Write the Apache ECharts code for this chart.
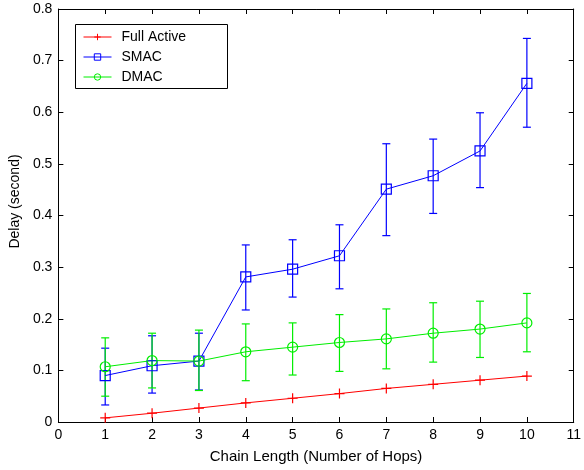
<!DOCTYPE html>
<html>
<head>
<meta charset="utf-8">
<script src="https://cdn.jsdelivr.net/npm/echarts@6/dist/echarts.min.js"></script>
<style>
html,body{margin:0;padding:0;background:#fff;}
#chart{width:584px;height:470px;}
</style>
</head>
<body>
<div id="chart"></div>
<script>
var hops = [1, 2, 3, 4, 5, 6, 7, 8, 9, 10];
var fullActive = [0.008, 0.017, 0.027, 0.037, 0.046, 0.055, 0.065, 0.073, 0.081, 0.089];
var smac = [0.090, 0.109, 0.118, 0.281, 0.296, 0.322, 0.451, 0.477, 0.525, 0.656];
var smacLow = [0.033, 0.056, 0.062, 0.217, 0.242, 0.258, 0.361, 0.404, 0.454, 0.571];
var smacHigh = [0.143, 0.167, 0.172, 0.343, 0.353, 0.382, 0.539, 0.548, 0.599, 0.743];
var dmac = [0.107, 0.119, 0.118, 0.136, 0.145, 0.154, 0.161, 0.172, 0.180, 0.192];
var dmacLow = [0.050, 0.066, 0.061, 0.080, 0.091, 0.098, 0.103, 0.116, 0.125, 0.136];
var dmacHigh = [0.163, 0.172, 0.178, 0.190, 0.192, 0.208, 0.219, 0.231, 0.234, 0.249];
var seriesNames = ['Full Active', 'SMAC', 'DMAC'];
var xTitle = 'Chain Length (Number of Hops)';
var yTitle = 'Delay (second)';

var RED = '#ff0000', BLUE = '#0000ff', GREEN = '#00ee00';

function pairs(xs, ys) { return xs.map(function (x, i) { return [x, ys[i]]; }); }
function errData(xs, lo, hi) { return xs.map(function (x, i) { return [x, lo[i], hi[i]]; }); }

function errorBar(color) {
  return function (params, api) {
    var x = api.value(0);
    var lo = api.coord([x, api.value(1)]);
    var hi = api.coord([x, api.value(2)]);
    var hw = 4;
    var style = { stroke: color, lineWidth: 1.2, fill: null };
    return {
      type: 'group',
      children: [
        { type: 'line', shape: { x1: lo[0], y1: lo[1], x2: hi[0], y2: hi[1] }, style: style },
        { type: 'line', shape: { x1: lo[0] - hw, y1: lo[1], x2: lo[0] + hw, y2: lo[1] }, style: style },
        { type: 'line', shape: { x1: hi[0] - hw, y1: hi[1], x2: hi[0] + hw, y2: hi[1] }, style: style }
      ]
    };
  };
}

var font = 'Liberation Sans, Arial, sans-serif';
var chart = echarts.init(document.getElementById('chart'), null, { renderer: 'canvas' });

var tickCommon = { show: true, inside: true, length: 5, lineStyle: { color: '#000', width: 1 } };
var lineCommon = { show: true, onZero: false, lineStyle: { color: '#000', width: 1 } };

chart.setOption({
  animation: false,
  backgroundColor: '#fff',
  grid: { left: 57, right: 6, top: 9, bottom: 48, containLabel: false },
  graphic: [
    {
      type: 'rect', left: 75, top: 24, z: 4, silent: true,
      shape: { width: 152, height: 64 },
      style: { fill: '#fff', stroke: '#000', lineWidth: 1 }
    }
  ],
  legend: {
    data: seriesNames,
    orient: 'vertical',
    left: 75,
    top: 24,
    z: 6,
    itemWidth: 28,
    itemHeight: 8,
    itemGap: 6,
    padding: [6, 8, 5, 8],
    lineStyle: { width: 1 },
    itemStyle: { borderWidth: 1 },
    textStyle: { fontFamily: font, fontSize: 14, color: '#000', padding: [0, 0, 0, 5] }
  },
  xAxis: [
    {
      type: 'value', min: 0, max: 11, interval: 1,
      name: xTitle, nameLocation: 'middle', nameGap: 27,
      nameTextStyle: { fontFamily: font, fontSize: 15, color: '#000' },
      axisLine: lineCommon, axisTick: tickCommon, splitLine: { show: false },
      axisLabel: { fontFamily: font, fontSize: 14, color: '#000', margin: 6 }
    },
    {
      type: 'value', min: 0, max: 11, interval: 1, position: 'top',
      axisLine: lineCommon, axisTick: tickCommon, splitLine: { show: false },
      axisLabel: { show: false }
    }
  ],
  yAxis: [
    {
      type: 'value', min: 0, max: 0.8, interval: 0.1,
      name: yTitle, nameLocation: 'middle', nameGap: 36, nameRotate: 90,
      nameTextStyle: { fontFamily: font, fontSize: 14, color: '#000', padding: [0, 0, 0, 28] },
      axisLine: lineCommon, axisTick: tickCommon, splitLine: { show: false },
      axisLabel: {
        fontFamily: font, fontSize: 14, color: '#000', margin: 6,
        formatter: function (v) { return v === 0 ? '0' : v.toFixed(1); }
      }
    },
    {
      type: 'value', min: 0, max: 0.8, interval: 0.1, position: 'right',
      axisLine: lineCommon, axisTick: tickCommon, splitLine: { show: false },
      axisLabel: { show: false }
    }
  ],
  series: [
    {
      name: 'SMAC err', type: 'custom', renderItem: errorBar(BLUE),
      data: errData(hops, smacLow, smacHigh), encode: { x: 0, y: [1, 2] }, z: 1, silent: true
    },
    {
      name: 'DMAC err', type: 'custom', renderItem: errorBar(GREEN),
      data: errData(hops, dmacLow, dmacHigh), encode: { x: 0, y: [1, 2] }, z: 1, silent: true
    },
    {
      name: 'Full Active', type: 'line', data: pairs(hops, fullActive), z: 3,
      color: RED,
      symbol: 'path://M5,0L5,10M0,5L10,5', symbolSize: 10,
      lineStyle: { color: RED, width: 1 },
      itemStyle: { color: 'transparent', borderColor: RED, borderWidth: 1.2 }
    },
    {
      name: 'SMAC', type: 'line', data: pairs(hops, smac), z: 3,
      color: BLUE,
      symbol: 'rect', symbolSize: 10,
      lineStyle: { color: BLUE, width: 1 },
      itemStyle: { color: 'transparent', borderColor: BLUE, borderWidth: 1.2 }
    },
    {
      name: 'DMAC', type: 'line', data: pairs(hops, dmac), z: 3,
      color: GREEN,
      symbol: 'circle', symbolSize: 10,
      lineStyle: { color: GREEN, width: 1 },
      itemStyle: { color: 'transparent', borderColor: GREEN, borderWidth: 1.2 }
    }
  ]
});
</script>
</body>
</html>
